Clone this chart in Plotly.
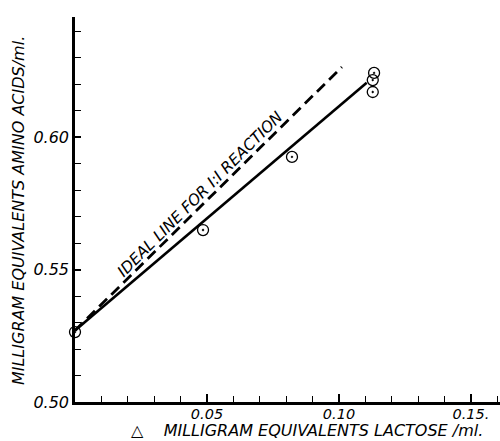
import plotly.graph_objects as go

# Observed data points (delta lactose vs amino acids), mg equiv / ml
lactose = [0.0, 0.0485, 0.0822, 0.1133, 0.1128, 0.1128]
amino = [0.5264, 0.5649, 0.5925, 0.6242, 0.6215, 0.6170]

# Fitted (solid) line end points
fit_x = [0.0, 0.1105]
fit_y = [0.5270, 0.6205]

# Ideal 1:1 reaction (dashed) line end points
ideal_x = [0.0, 0.1011]
ideal_y = [0.5270, 0.6264]

x_tickvals = [0.05, 0.10, 0.15]
x_ticktext = ["0.05", "0.10", "0.15."]
y_tickvals = [0.50, 0.55, 0.60]
y_ticktext = ["0.50", "0.55", "0.60"]

FONT = "DejaVu Sans"

fig = go.Figure()
fig.add_trace(go.Scatter(x=ideal_x, y=ideal_y, mode="lines",
                         line=dict(color="black", width=2.8, dash="11px,6px"),
                         hoverinfo="skip", showlegend=False))
fig.add_trace(go.Scatter(x=fit_x, y=fit_y, mode="lines",
                         line=dict(color="black", width=2.6),
                         hoverinfo="skip", showlegend=False))
fig.add_trace(go.Scatter(x=lactose, y=amino, mode="markers",
                         marker=dict(symbol="circle-open-dot", size=11, color="black",
                                     line=dict(width=1.3, color="black")),
                         cliponaxis=False, showlegend=False))

fig.update_xaxes(range=[0, 0.161], showline=True, linewidth=2.5, linecolor="black",
                 ticks="inside", ticklen=8, tickwidth=1.5, tickcolor="black",
                 tickmode="array", tickvals=x_tickvals, ticktext=x_ticktext,
                 tickfont=dict(family=FONT, size=14.5, color="black", style="italic"),
                 ticklabelstandoff=-3,
                 showgrid=False, zeroline=False,
                 minor=dict(tick0=0, dtick=0.01, ticks="inside", ticklen=6,
                            tickwidth=1.3, tickcolor="black", showgrid=False))
fig.update_yaxes(range=[0.5, 0.6453], showline=True, linewidth=2.5, linecolor="black",
                 ticks="inside", ticklen=6, tickwidth=1.5, tickcolor="black",
                 tickmode="array", tickvals=y_tickvals, ticktext=y_ticktext,
                 tickfont=dict(family=FONT, size=16, color="black", style="italic"),
                 showgrid=False, zeroline=False,
                 minor=dict(tick0=0.5, dtick=0.01, ticks="inside", ticklen=6,
                            tickwidth=1.3, tickcolor="black", showgrid=False))

fig.add_annotation(x=-0.134, y=0.496, xref="paper", yref="paper",
                   xanchor="center", yanchor="middle",
                   text="MILLIGRAM EQUIVALENTS AMINO ACIDS/ml.", textangle=-90,
                   showarrow=False, font=dict(family=FONT, size=16, color="black", style="italic"))
fig.add_annotation(x=0.547, y=-0.075, xref="paper", yref="paper",
                   xanchor="center", yanchor="middle",
                   text="\u25b3\u00a0\u00a0\u00a0\u00a0MILLIGRAM EQUIVALENTS LACTOSE /ml.",
                   showarrow=False, font=dict(family=FONT, size=16, color="black", style="italic"))
fig.add_annotation(x=0.0475, y=0.5785, xref="x", yref="y",
                   xanchor="center", yanchor="middle",
                   text="IDEAL LINE FOR I:I REACTION", textangle=-45,
                   showarrow=False, font=dict(family=FONT, size=15.5, color="black", style="italic"))

fig.update_layout(width=500, height=441, margin=dict(l=75, r=0, t=17, b=39),
                  plot_bgcolor="white", paper_bgcolor="white")

fig.write_html("out.html")
